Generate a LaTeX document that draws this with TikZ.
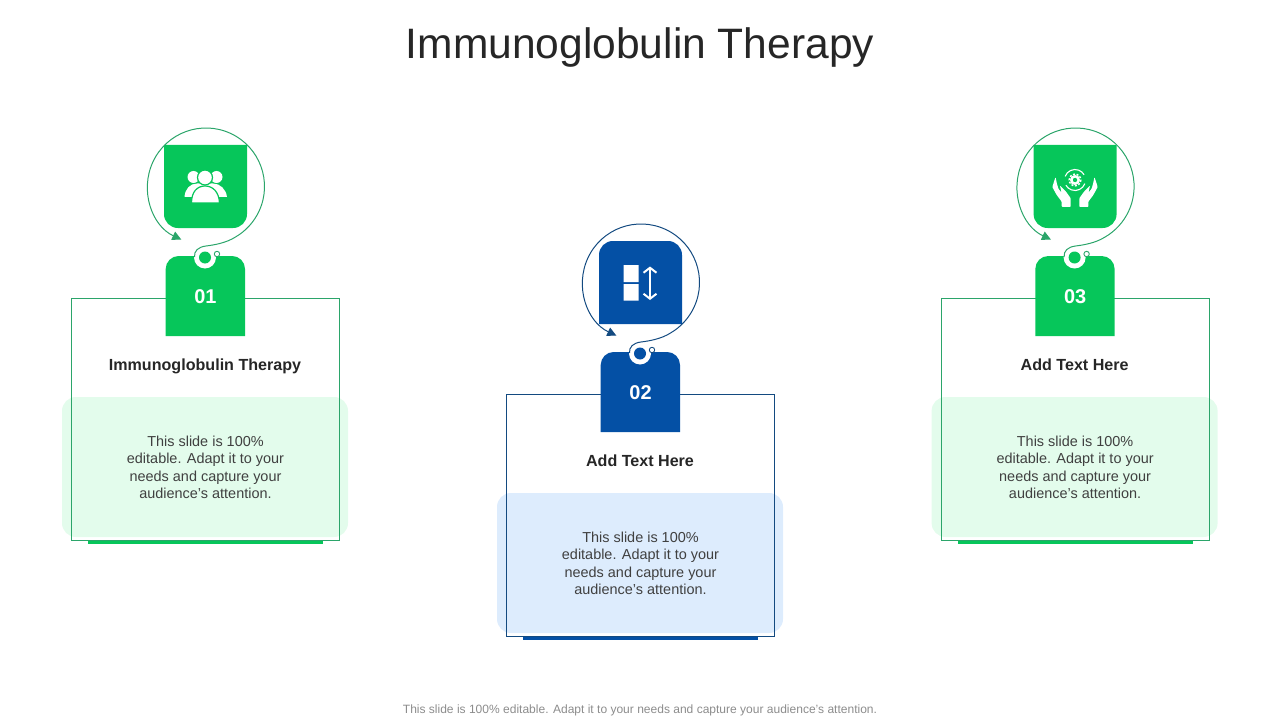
\documentclass[tikz,border=0pt]{standalone}
\usepackage{fontspec}
\setmainfont{Liberation Sans}
\usetikzlibrary{arrows.meta}
\definecolor{tealine}{HTML}{2BA56A}
\definecolor{mygreen}{HTML}{06C65A}
\definecolor{myblue}{HTML}{0450A5}
\definecolor{navyline}{HTML}{134A80}
\definecolor{palegreen}{HTML}{E3FCEC}
\definecolor{paleblue}{HTML}{DDECFD}
\definecolor{bodytext}{HTML}{404040}
\tikzset{
  headtext/.style={font=\fontsize{16.15}{19}\selectfont\bfseries,text=black!85,anchor=base},
  bodynote/.style={font=\fontsize{14.5}{17.7}\selectfont,text=bodytext,align=center},
  numtext/.style={font=\fontsize{20}{24}\selectfont\bfseries,text=white}
}
\begin{document}
\begin{tikzpicture}[x=1bp,y=-1bp]
  \useasboundingbox (0,0) rectangle (1280,720);
  \node (title) at (640,47.5) {\fontsize{42.7}{51}\selectfont\color{black!85}Immunoglobulin Therapy};
  \node (footer) at (640,710.5) {\fontsize{12.07}{14}\selectfont\color{black!45}This slide is 100\% editable. Adapt it to your needs and capture your audience's attention.};
  \foreach \dx/\dy/\main/\pale/\edge/\num/\head/\rtop/\rbot in {
     0/0/mygreen/palegreen/tealine/01/Immunoglobulin Therapy/0/14,
     435/96/myblue/paleblue/navyline/02/Add Text Here/14/0,
     869.6/0/mygreen/palegreen/tealine/03/Add Text Here/0/14}{
   \begin{scope}[shift={(\dx,\dy)}]
    \fill[\pale,rounded corners=14] (62,397) rectangle (348,537);
    \draw[\edge,line width=1] (71.5,298) rectangle (339.5,540.5);
    \fill[\main] (88,540.8) rectangle (323,544);
    % icon box
    \fill[\main] (164,186) [rounded corners=\rtop] -- (164,145) -- (247,145)
      [sharp corners] -- (247,186) [rounded corners=\rbot] -- (247,228) -- (164,228) [sharp corners] -- cycle;
    % number tag
    \fill[\main] (165.7,336) -- (165.7,290) [rounded corners=13]
      -- (165.7,256) -- (245,256) [sharp corners] -- (245,336) -- cycle;
    \node[numtext] (num\num) at (205.5,296.5) {\num};
    \node[headtext] (head\num) at (205,370.7) {\head};
    \node[bodynote] (note\num) at (205.5,467.3) {This slide is 100\%\\editable. Adapt it to your\\needs and capture your\\audience's attention.};
    % ring and hole
    \coordinate (hole\num) at (205,257.5);
    \coordinate (start\num) at ({206+58.5*cos(115)},{186.5+58.5*sin(115)});
    \fill[white] (hole\num) circle (11);
    \fill[\main] (hole\num) circle (6);
    \draw[\edge,line width=0.9,fill=white] (217,254) circle (2.7);
    \draw[\edge,line width=1,{Triangle[length=9,width=9]}-] (start\num)
      arc[start angle=115,end angle=420,radius=58.5]
      .. controls (226,243) and (214,245) .. (206,246)
      .. controls (198,247) and (194,251) .. (194.5,257);
   \end{scope}
  }
  % people icon
  \fill[white] (193.5,177) circle (6) (216.5,177) circle (6);
  \fill[white] (184.5,197) .. controls (185,189) and (190,183.5) .. (197,183.5) -- (213,183.5)
     .. controls (220,183.5) and (226,189) .. (227,197) -- cycle;
  \draw[mygreen,line width=1.2,fill=white] (205,177.5) circle (7.5);
  \draw[mygreen,line width=1.2,fill=white] (191.5,203) .. controls (191.5,192) and (197,186) .. (205,186)
     .. controls (213,186) and (219,192) .. (219.5,203) -- cycle;
  % split icon
  \fill[white] (623.5,265) rectangle (638.5,282) (623.5,284) rectangle (638.5,300.5);
  \draw[white,line width=2,{Straight Barb[length=5,width=13]}-{Straight Barb[length=5,width=13]}] (650,266.5) -- (650,300);
  % hands icon
  \draw[white,line width=2.5] (1075,180) circle (3.7);
  \draw[white,line width=1.5,dash pattern=on 2 off 1.6] (1075,180) circle (5.8);
  \draw[white,line width=1.1] (1075,180) ++(200:10.5) arc[start angle=200,end angle=330,radius=10.5];
  \draw[white,line width=1.1] (1075,180) ++(20:10.5) arc[start angle=20,end angle=150,radius=10.5];
  \foreach \side in {1,-1}{
    \fill[white,rounded corners=0.8] ({1075-\side*19.5},177) -- ({1075-\side*22.7},187) -- ({1075-\side*18.3},195)
      -- ({1075-\side*13.3},201.7) -- ({1075-\side*13.3},207) -- ({1075-\side*4.3},207) -- ({1075-\side*4.3},198.3)
      -- ({1075-\side*9},191.7) -- ({1075-\side*15},185.5) -- ({1075-\side*13.5},192.5) -- ({1075-\side*16.5},189) -- ({1075-\side*18},184) -- cycle;
  }
\end{tikzpicture}
\end{document}
